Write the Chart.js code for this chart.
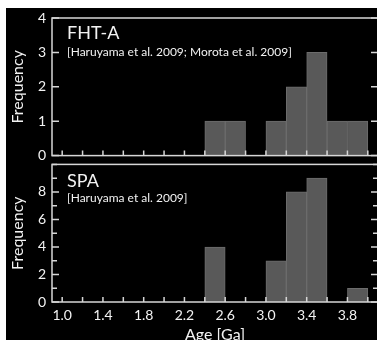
<!DOCTYPE html>
<html>
<head>
<meta charset="utf-8">
<script src="https://cdn.jsdelivr.net/npm/chart.js@4"></script>
<style>
  html, body { margin: 0; padding: 0; background: #ffffff; width: 377px; height: 340px; overflow: hidden; position: relative; }
  #bg { position: absolute; left: 6px; top: 8px; width: 380px; height: 340px; background: #000000; }
  canvas { position: absolute; left: 0; }
  #top { top: 0; }
  #bot { top: 150px; }
</style>
</head>
<body>
<div id="bg"></div>
<canvas id="top" width="380" height="170"></canvas>
<canvas id="bot" width="380" height="200"></canvas>
<script>
// ---- data ----
const binStart = [1.0, 1.2, 1.4, 1.6, 1.8, 2.0, 2.2, 2.4, 2.6, 2.8, 3.0, 3.2, 3.4, 3.6, 3.8];
const binWidth = 0.2;
const fhtACounts = [0, 0, 0, 0, 0, 0, 0, 1, 1, 0, 1, 2, 3, 1, 1];
const spaCounts  = [0, 0, 0, 0, 0, 0, 0, 4, 0, 0, 3, 8, 9, 0, 1];
const xTickLabels = ['1.0', '1.4', '1.8', '2.2', '2.6', '3.0', '3.4', '3.8'];
const topYTickLabels = ['0', '1', '2', '3', '4'];
const botYTickLabels = ['0', '2', '4', '6', '8'];
const panelTitles = ['FHT-A', 'SPA'];
const panelRefs = ['[Haruyama et al. 2009; Morota et al. 2009]', '[Haruyama et al. 2009]'];

const FONT = 'Lato';
const TXT = '#f2f2f2';
const LINE = '#d6d6d6';

function toPoints(counts) {
  return binStart.map((s, i) => ({ x: s + binWidth / 2, y: counts[i] }));
}

const framePlugin = {
  id: 'frame',
  afterDatasetsDraw(chart, args, opts) {
    const { ctx, chartArea: a, scales: { x, y } } = chart;
    ctx.save();
    ctx.strokeStyle = LINE;
    ctx.lineWidth = 1.5;
    ctx.beginPath();
    x.ticks.forEach(t => {
      const px = x.getPixelForValue(t.value);
      ctx.moveTo(px, a.bottom);
      ctx.lineTo(px, a.bottom - 5);
    });
    y.ticks.forEach(t => {
      const py = y.getPixelForValue(t.value);
      const len = opts.labels.includes(String(t.value)) ? 7 : 5;
      ctx.moveTo(a.left, py); ctx.lineTo(a.left + len, py);
      ctx.moveTo(a.right, py); ctx.lineTo(a.right - len, py);
    });
    ctx.stroke();
    ctx.strokeRect(a.left, a.top, a.right - a.left, a.bottom - a.top);
    // panel annotations
    ctx.fillStyle = TXT;
    ctx.textAlign = 'left';
    ctx.textBaseline = 'alphabetic';
    ctx.font = '18px ' + FONT;
    ctx.fillText(opts.title, a.left + 15, a.top + opts.titleDy);
    ctx.font = '12px ' + FONT;
    ctx.fillText(opts.ref, a.left + 15, a.top + opts.refDy);
    ctx.restore();
  }
};

function makeChart(id, counts, yMax, yLabels, isBottom, idx) {
  return new Chart(document.getElementById(id), {
    type: 'bar',
    data: {
      datasets: [{
        data: toPoints(counts),
        backgroundColor: '#595959',
        borderColor: '#6c6c6c',
        borderWidth: 1,
        barPercentage: 1.0,
        categoryPercentage: 1.0
      }]
    },
    options: {
      responsive: false,
      animation: false,
      events: [],
      layout: { padding: isBottom ? { top: 11, right: 2, bottom: 0, left: 0 } : { top: 18, right: 2, bottom: 9, left: 0 } },
      plugins: {
        legend: { display: false },
        tooltip: { enabled: false },
        frame: {
          labels: yLabels,
          title: panelTitles[idx],
          ref: panelRefs[idx],
          titleDy: isBottom ? 23 : 21,
          refDy: 38
        }
      },
      scales: {
        x: {
          type: 'linear',
          min: 1.0,
          max: 4.0,
          grid: { display: false, drawTicks: false },
          border: { display: false },
          ticks: {
            display: isBottom,
            stepSize: 0.2,
            autoSkip: false,
            maxRotation: 0,
            padding: 5,
            color: TXT,
            font: { family: FONT, size: 14 },
            callback: (v) => {
              const s = Number(v).toFixed(1);
              return xTickLabels.includes(s) ? s : '';
            }
          },
          title: {
            display: isBottom,
            text: 'Age [Ga]',
            color: TXT,
            font: { family: FONT, size: 16 },
            padding: { top: 0, bottom: 6 }
          },
          afterFit: (s) => { s.height = isBottom ? 48 : 0; }
        },
        y: {
          min: 0,
          max: yMax,
          grid: { display: false, drawTicks: false },
          border: { display: false },
          ticks: {
            stepSize: 1,
            autoSkip: false,
            padding: 6,
            color: TXT,
            font: { family: FONT, size: 14 },
            callback: (v) => yLabels.includes(String(v)) ? String(v) : ''
          },
          title: {
            display: true,
            text: 'Frequency',
            color: TXT,
            font: { family: FONT, size: 16 },
            padding: { top: 8, bottom: 0 }
          },
          afterFit: (s) => { s.width = 52; }
        }
      }
    },
    plugins: [framePlugin]
  });
}

makeChart('top', fhtACounts, 4, topYTickLabels, false, 0);
makeChart('bot', spaCounts, 10, botYTickLabels, true, 1);
</script>
</body>
</html>
